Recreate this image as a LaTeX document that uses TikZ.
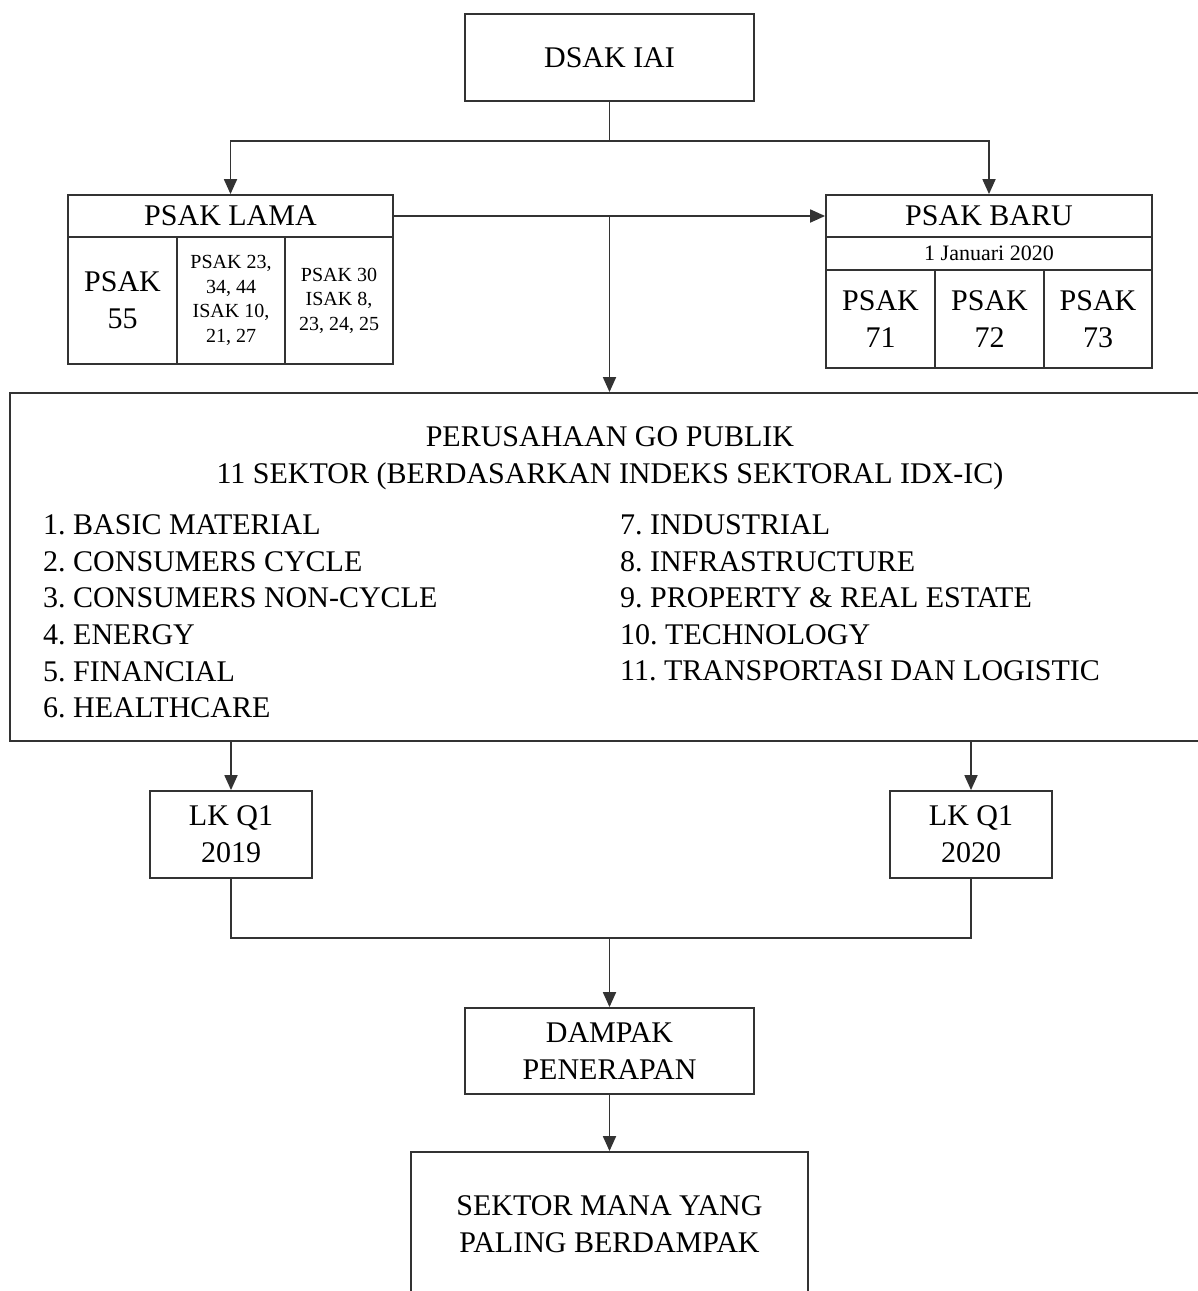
\documentclass[tikz,border=0pt]{standalone}
\usepackage{fontspec}
\setmainfont{Liberation Serif}
\usetikzlibrary{arrows.meta}
\frenchspacing
\begin{document}
\begin{tikzpicture}[x=1pt,y=-1pt,
  box/.style={draw=black!80, line width=1.8pt, inner sep=0pt, align=center,
    font=\fontsize{30}{37}\selectfont},
  smalltext/.style={font=\fontsize{20}{24.5}\selectfont},
  datetext/.style={font=\fontsize{22}{26}\selectfont},
  plain/.style={inner sep=0pt, font=\fontsize{30}{36.6}\selectfont},
  conn/.style={draw=black!80, line width=1.8pt},
  arr/.style={conn, -{Triangle[length=15pt,width=13pt]}}]

\clip (0,0) rectangle (1198,1291);

% top
\node[box, minimum width=289pt, minimum height=87pt] (dsak) at (609.5,57.5) {DSAK IAI};

% PSAK LAMA
\node[box, minimum width=325pt, minimum height=42pt] (lamah) at (230.5,216) {PSAK LAMA};
\node[box, minimum width=109pt, minimum height=127pt] (lama1) at (122.5,300.5) {PSAK\\55};
\node[box, smalltext, minimum width=108pt, minimum height=127pt] (lama2) at (231,300.5) {PSAK 23,\\34, 44\\ISAK 10,\\21, 27};
\node[box, smalltext, minimum width=108pt, minimum height=127pt] (lama3) at (339,300.5) {PSAK 30\\ISAK 8,\\23, 24, 25};

% PSAK BARU
\node[box, minimum width=326pt, minimum height=42pt] (baruh) at (989,216) {PSAK BARU};
\node[box, datetext, minimum width=326pt, minimum height=33pt] (barud) at (989,253.5) {1 Januari 2020};
\node[box, minimum width=109pt, minimum height=98pt] (baru1) at (880.5,319) {PSAK\\71};
\node[box, minimum width=109pt, minimum height=98pt] (baru2) at (989.5,319) {PSAK\\72};
\node[box, minimum width=108pt, minimum height=98pt] (baru3) at (1098,319) {PSAK\\73};

% big box
\node[box, minimum width=1205pt, minimum height=348pt] (big) at (612.5,567) {};
\node[plain, align=center] (title) at (610,458) {PERUSAHAAN GO PUBLIK\\11 SEKTOR (BERDASARKAN INDEKS SEKTORAL IDX-IC)};
\node[plain, align=left, anchor=west] (listl) at (43,616.5) {1. BASIC MATERIAL\\2. CONSUMERS CYCLE\\3. CONSUMERS NON-CYCLE\\4. ENERGY\\5. FINANCIAL\\6. HEALTHCARE};
\node[plain, align=left, anchor=west] (listr) at (620,598) {7. INDUSTRIAL\\8. INFRASTRUCTURE\\9. PROPERTY \& REAL ESTATE\\10. TECHNOLOGY\\11. TRANSPORTASI DAN LOGISTIC};

% LK boxes
\node[box, minimum width=162pt, minimum height=87pt] (lk1) at (231,834.5) {LK Q1\\2019};
\node[box, minimum width=162pt, minimum height=87pt] (lk2) at (971,834.5) {LK Q1\\2020};

% bottom
\node[box, minimum width=289pt, minimum height=86pt] (dampak) at (609.5,1051) {DAMPAK\\PENERAPAN};
\node[box, minimum width=397pt, minimum height=148pt] (hasil) at (609.5,1226) {};
\node[plain, align=center] (hasilt) at (609.5,1224) {SEKTOR MANA YANG\\PALING BERDAMPAK};

% connectors
\coordinate (split) at (609.5,141);
\coordinate (mid) at (609.5,216);
\coordinate (join) at (609.5,938);
\draw[conn] (dsak.south) -- (split);
\draw[arr] (split) -| (lamah.north);
\draw[arr] (split) -| (baruh.north);
\draw[arr] (lamah.east) -- (baruh.west);
\draw[arr] (mid) -- (big.north -| mid);
\draw[arr] (big.south -| lk1.north) -- (lk1.north);
\draw[arr] (big.south -| lk2.north) -- (lk2.north);
\draw[conn] (lk1.south) |- (join) -| (lk2.south);
\draw[arr] (join) -- (dampak.north);
\draw[arr] (dampak.south) -- (hasil.north);
\end{tikzpicture}
\end{document}
